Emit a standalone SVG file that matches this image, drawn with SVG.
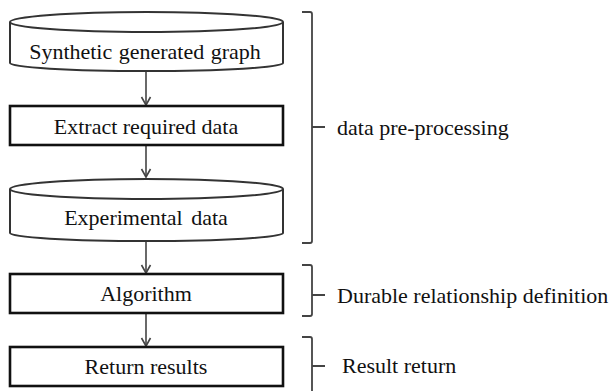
<svg xmlns="http://www.w3.org/2000/svg" width="613" height="391" viewBox="0 0 613 391">
<style>
text{font-family:"Liberation Serif","Times New Roman",serif;font-size:22px;fill:#111;}
.lbl{text-anchor:middle;dominant-baseline:central;}
.side{dominant-baseline:central;}
.cyl{fill:#fff;stroke:#333;stroke-width:2;}
.box{fill:#fff;stroke:#111;stroke-width:2.6;}
.conn{stroke:#444;stroke-width:1.6;fill:none;}
.brace{stroke:#444;stroke-width:1.8;fill:none;}
</style>
<defs>
<marker id="arr" markerWidth="12" markerHeight="12" refX="10" refY="6" orient="auto" markerUnits="userSpaceOnUse">
<path d="M2,1.5 L10,6 L2,10.5" fill="none" stroke="#444" stroke-width="1.6"/>
</marker>
</defs>
<rect width="613" height="391" fill="#fff"/>
<g id="connectors">
<line class="conn" x1="146" y1="71" x2="146" y2="105" marker-end="url(#arr)"/>
<line class="conn" x1="146" y1="145" x2="146" y2="177" marker-end="url(#arr)"/>
<line class="conn" x1="146" y1="241" x2="146" y2="273" marker-end="url(#arr)"/>
<line class="conn" x1="146" y1="313" x2="146" y2="346" marker-end="url(#arr)"/>
</g>
<g id="synthetic">
<path class="cyl" d="M10,22 L10,63 A136.5,8 0 0 0 283,63 L283,22"/>
<ellipse class="cyl" cx="146.5" cy="22" rx="136.5" ry="10"/>
<text class="lbl" x="145" y="51" style="word-spacing:1px">Synthetic generated graph</text>
</g>
<g id="extract">
<rect class="box" x="10" y="106" width="273" height="39"/>
<text class="lbl" x="146" y="126">Extract required data</text>
</g>
<g id="experimental">
<path class="cyl" d="M10,189 L10,233 A136.5,8 0 0 0 283,233 L283,189"/>
<ellipse class="cyl" cx="146.5" cy="189" rx="136.5" ry="10"/>
<text class="lbl" x="146" y="217" style="word-spacing:3px">Experimental data</text>
</g>
<g id="algorithm">
<rect class="box" x="10" y="274" width="273" height="39"/>
<text class="lbl" x="146" y="293">Algorithm</text>
</g>
<g id="return">
<rect class="box" x="10" y="347" width="273" height="39"/>
<text class="lbl" x="146" y="366">Return results</text>
</g>
<g id="brace-preprocessing">
<path class="brace" d="M302,12 L310,12 Q312,12 312,14 L312,241 Q312,243 310,243 L302,243 M312,127 L325,127"/>
<text class="side" x="337" y="127">data pre-processing</text>
</g>
<g id="brace-durable">
<path class="brace" d="M302,265 L310,265 Q312,265 312,267 L312,314 Q312,316 310,316 L302,316 M312,295 L325,295"/>
<text class="side" x="337" y="295">Durable relationship definition</text>
</g>
<g id="brace-result">
<path class="brace" d="M302,337 L310,337 Q312,337 312,339 L312,391 M312,366 L325,366"/>
<text class="side" x="342" y="365">Result return</text>
</g>
</svg>
